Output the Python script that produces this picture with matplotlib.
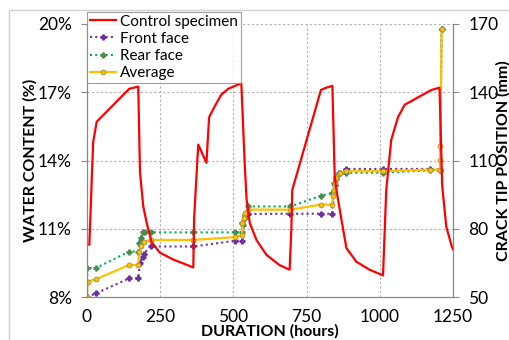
import matplotlib.pyplot as plt
from matplotlib.ticker import FuncFormatter
from matplotlib.patches import Rectangle

plt.rcParams['font.family'] = ['Lato', 'DejaVu Sans']

# control specimen: water content (%) vs hours
ctrl_h = [8, 21, 33, 144, 175, 181, 192, 204, 221, 249, 294, 363, 366, 380, 408, 417, 437,
          459, 482, 527, 539, 545, 556, 579, 613, 658, 692, 698, 701, 799, 817, 838, 846,
          852, 869, 886, 920, 965, 1011, 1022, 1039, 1062, 1085, 1176, 1204, 1213, 1227,
          1244, 1250]
ctrl_wc = [10.3, 14.8, 15.7, 17.15, 17.25, 13.5, 12.0, 11.25, 10.4, 9.95, 9.65, 9.3, 11.5,
           14.7, 13.9, 15.9, 16.4, 16.9, 17.15, 17.4, 13.75, 12.3, 11.25, 10.5, 9.85, 9.4,
           9.2, 11.0, 12.7, 17.1, 17.2, 17.28, 13.3, 12.7, 11.4, 10.15, 9.55, 9.2, 8.95,
           12.7, 14.9, 15.9, 16.45, 17.1, 17.2, 12.9, 11.1, 10.3, 10.1]

# crack tip position (mm)
front_h = [0, 31, 144, 175, 181, 190, 194, 217, 363, 505, 530, 531, 539, 550, 695, 798,
           838, 846, 849, 860, 886, 1011, 1173, 1206, 1211]
front_mm = [50, 51.6, 58.2, 58.2, 64.9, 67.8, 69, 72.2, 72.2, 74.7, 74.7, 82.5, 86.2, 86.5,
            86.6, 86.6, 86.6, 99.4, 101.9, 104.6, 106.3, 106.3, 106.3, 106, 168]

rear_h = [0, 1, 31, 144, 175, 178, 184, 190, 198, 217, 363, 505, 530, 533, 539, 550, 695,
          798, 838, 843, 849, 863, 886, 1011, 1173, 1206, 1211]
rear_mm = [50, 62.7, 62.7, 70, 70, 73.7, 75.9, 78.4, 78.4, 78.4, 78.4, 78.4, 78.4, 81.8,
           84.7, 89.8, 89.8, 94.5, 95.7, 100.1, 102.8, 104.6, 104.6, 104.6, 105.7, 106, 168]

avg_h = [0, 2, 31, 144, 175, 178, 186, 194, 217, 363, 505, 530, 531, 535, 541, 550, 695,
         798, 838, 840, 843, 846, 852, 863, 886, 1011, 1173, 1206, 1206, 1207, 1211]
avg_mm = [50, 56.8, 57.8, 64.1, 64.1, 70, 72.5, 74, 75.1, 75.1, 76.3, 77.3, 82.5, 84.7,
          86.9, 88.4, 88.4, 90.6, 90.6, 94.5, 97.2, 100.1, 102.3, 104.6, 105.3, 105.3, 106,
          106, 110.4, 116.3, 167.8]

fig = plt.figure(figsize=(5.09, 3.4), dpi=100)
fig.patches.append(Rectangle((9 / 509, -0.1), 1.2, (340 - 10) / 340 + 0.1,
                             transform=fig.transFigure, fill=False, ec='#d0d0d0', lw=1))
ax = fig.add_axes([87 / 509, 1 - 297 / 340, (453 - 87) / 509, (297 - 24) / 340])
ax2 = ax.twinx()

l1, = ax.plot(ctrl_h, ctrl_wc, color='#ff0000', lw=1.6, label='Control specimen', zorder=3)
l2, = ax2.plot(front_h, front_mm, color='#7030a0', lw=1.5, ls=(0, (1, 1.5)), marker='P',
               ms=3.5, label='Front face')
l3, = ax2.plot(rear_h, rear_mm, color='#00b050', lw=1.5, ls=(0, (1, 1.5)), marker='P',
               ms=3.5, mec='#558855', label='Rear face')
l4, = ax2.plot(avg_h, avg_mm, color='#ffc000', lw=1.6, marker='o', ms=3.5, mec='#a09040',
               mew=0.6, label='Average')

ax.set_xlim(0, 1250)
ax.set_ylim(8, 20)
ax2.set_ylim(50, 170)
ax.set_xticks([0, 250, 500, 750, 1000, 1250])
ax.set_yticks([8, 11, 14, 17, 20])
ax2.set_yticks([50, 80, 110, 140, 170])
ax.yaxis.set_major_formatter(FuncFormatter(lambda v, p: '%d%%' % v))
ax.grid(True, color='#b0b0b0', ls=(0, (2, 2)), lw=0.8)
ax.set_zorder(ax2.get_zorder() + 1)
ax.patch.set_visible(False)

for a in (ax, ax2):
    for s in a.spines.values():
        s.set_color('#888888')
    a.spines['top'].set_visible(False)
    a.tick_params(labelsize=12.5, color='#888888', length=4, width=0.8, pad=7)
ax.tick_params(axis='x', length=0, pad=9)

ax.set_xlabel('DURATION (hours)', fontsize=11.5, fontweight='bold', labelpad=-1)
ax.set_ylabel('WATER CONTENT (%)', fontsize=11.5, fontweight='bold')
ax.yaxis.set_label_coords(-0.135, 0.5)
ax2.set_ylabel('CRACK TIP POSITION (mm)', fontsize=11.5, fontweight='bold')
ax2.yaxis.set_label_coords(1.117, 0.5)

leg = ax.legend(handles=[l1, l2, l3, l4], loc='upper left', bbox_to_anchor=(0.0, 1.045),
                fontsize=11, frameon=True, fancybox=False, edgecolor='#888888',
                handlelength=1.7, handletextpad=0.25, borderpad=0.2, labelspacing=0.2,
                borderaxespad=0)
leg.get_frame().set_linewidth(0.8)

fig.savefig('out.png', dpi=100)
